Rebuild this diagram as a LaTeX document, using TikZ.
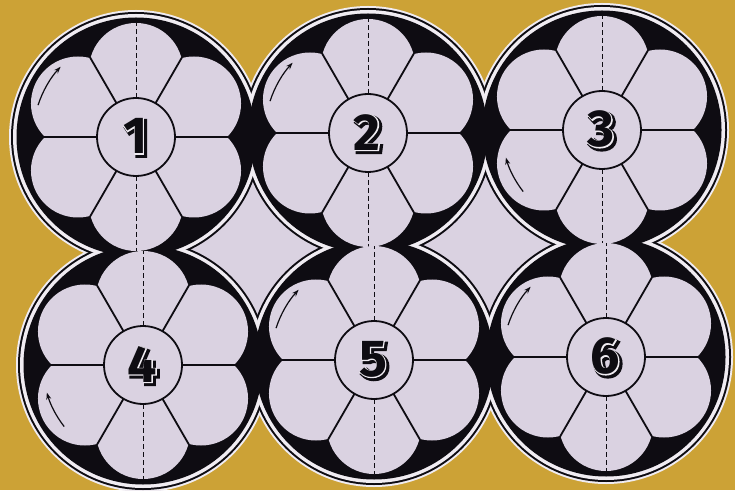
\documentclass[tikz,border=0pt]{standalone}
\usepackage{fontspec}
\newfontfamily\digitheavy{Fira Sans Bold}[FakeBold=7]
\newfontfamily\digitmid{Fira Sans Bold}[FakeBold=3]
\newfontfamily\digitcore{Fira Sans Bold}
\usetikzlibrary{calc, arrows.meta}

\definecolor{gold}{RGB}{204,162,54}
\definecolor{petal}{RGB}{218,210,225}
\definecolor{paper}{RGB}{240,236,242}
\definecolor{ink}{RGB}{14,12,18}

\begin{document}
\begin{tikzpicture}[
    x=1pt, y=1pt,
    divider/.style={draw=ink, line width=1.8pt},
    hub/.style={circle, draw=ink, line width=1.8pt, fill=petal,
        minimum size=78pt, inner sep=0pt},
    fold/.style={draw=ink, line width=0.8pt, dash pattern=on 5pt off 3pt},
    turn/.style={draw=ink, line width=1.2pt, -{Stealth[length=7pt, width=5pt]}},
    digit/.style={font=#1\fontsize{52}{52}\selectfont, inner sep=0pt},
]

\fill[gold] (0,0) rectangle (735,490);
\useasboundingbox (0,0) rectangle (735,490);

\foreach \n/\x/\y in {1/136/353, 2/368/357, 3/602/360, 4/143/125, 5/374/130, 6/606/133}
    \coordinate (c\n) at (\x,\y);

% paper outline, rings and black discs
\foreach \n in {1,...,6} \fill[paper] (c\n) circle[radius=127];
\fill[petal] (c1) -- (c2) -- (c5) -- (c4) -- cycle;
\fill[petal] (c2) -- (c3) -- (c6) -- (c5) -- cycle;
\foreach \n in {1,...,6} \fill[ink] (c\n) circle[radius=125];
\foreach \n in {1,...,6} \fill[paper] (c\n) circle[radius=123];
\foreach \n in {1,...,6} \fill[ink] (c\n) circle[radius=119.5];

% flowers
\foreach \n in {1,...,6} {
    \foreach \a in {30,90,...,330}
        \fill[petal] ($(c\n)+(\a:67)$) circle[radius=47];
    \foreach \a in {0,60,...,300}
        \draw[divider] (c\n) -- ++(\a:92);
    \draw[fold] ($(c\n)+(0,39)$) -- ++(0,75);
    \draw[fold] ($(c\n)+(0,-39)$) -- ++(0,-75);
    \node[hub] (hub\n) at (c\n) {};
    \node[digit=\digitheavy, text=ink] (shade\n) at ($(c\n)+(1.4,-1.4)$) {\n};
    \node[digit=\digitmid, text=paper] (rim\n) at ($(c\n)+(-0.6,0.6)$) {\n};
    \node[digit=\digitcore, text=ink] (num\n) at ($(c\n)+(-0.6,0.6)$) {\n};
}

\foreach \n in {1,2,5,6}
    \draw[turn] ($(c\n)+(162:103)$) arc[start angle=162, end angle=137, radius=103];
\foreach \n in {3,4}
    \draw[turn] ($(c\n)+(218:100)$) arc[start angle=218, end angle=196, radius=100];

\end{tikzpicture}
\end{document}
